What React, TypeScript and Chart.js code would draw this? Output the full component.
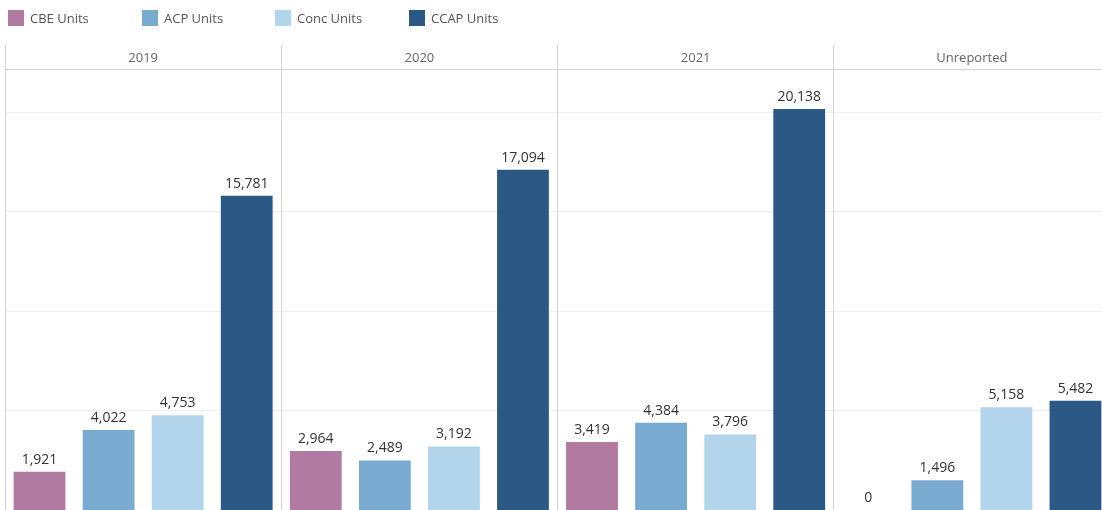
import React, { useEffect, useRef } from "react";
import { Chart, registerables } from "chart.js";

Chart.register(...registerables);

const categories = ["2019", "2020", "2021", "Unreported"];
const seriesNames = ["CBE Units", "ACP Units", "Conc Units", "CCAP Units"];
const cbeUnits = [1921, 2964, 3419, 0];
const acpUnits = [4022, 2489, 4384, 1496];
const concUnits = [4753, 3192, 3796, 5158];
const ccapUnits = [15781, 17094, 20138, 5482];
const gridTicks = [5000, 10000, 15000, 20000];
const colors = ["#b07aa1", "#79aad0", "#b2d5ec", "#2c5885"];

const FONT = '"Open Sans", "Noto Sans", sans-serif';

export default function App() {
  const ref = useRef<HTMLCanvasElement | null>(null);

  useEffect(() => {
    document.body.style.margin = "0";
    const canvas = ref.current;
    if (!canvas) return;
    const series = [cbeUnits, acpUnits, concUnits, ccapUnits];
    const labels: string[] = [];
    categories.forEach((c) => seriesNames.forEach((s) => labels.push(c + " " + s)));
    const datasets = series.map((vals, si) => ({
      label: seriesNames[si],
      backgroundColor: colors[si],
      data: labels.map((_, idx) => (idx % 4 === si ? vals[Math.floor(idx / 4)] : null)),
      barPercentage: 0.75,
      categoryPercentage: 1,
    }));

    const panelPlugin = {
      id: "panels",
      beforeDatasetsDraw(chart: any) {
        const { ctx, chartArea, scales } = chart;
        const y = scales.y;
        ctx.save();
        ctx.strokeStyle = "#f0f0f0";
        ctx.lineWidth = 1;
        gridTicks.forEach((t) => {
          const py = Math.round(y.getPixelForValue(t)) + 0.5;
          ctx.beginPath();
          ctx.moveTo(chartArea.left, py);
          ctx.lineTo(chartArea.right, py);
          ctx.stroke();
        });
        ctx.restore();
      },
      afterDatasetsDraw(chart: any) {
        const { ctx, chartArea, scales } = chart;
        const x = scales.x;
        const step = (chartArea.right - chartArea.left) / labels.length;
        ctx.save();
        const headTop = 45;
        const headBottom = chartArea.top;
        ctx.strokeStyle = "#d4d4d4";
        ctx.lineWidth = 1;
        ctx.beginPath();
        ctx.moveTo(chartArea.left, headBottom + 0.5);
        ctx.lineTo(chartArea.right, headBottom + 0.5);
        ctx.stroke();
        for (let p = 0; p <= categories.length; p++) {
          const px = Math.floor(chartArea.left + p * 4 * step) + 0.5;
          ctx.beginPath();
          ctx.moveTo(px, headTop);
          ctx.lineTo(px, chartArea.bottom);
          ctx.stroke();
        }
        ctx.fillStyle = "#666";
        ctx.font = "13px " + FONT;
        ctx.textAlign = "center";
        ctx.textBaseline = "middle";
        categories.forEach((c, p) => {
          const cx = chartArea.left + (p * 4 + 2) * step;
          ctx.fillText(c, cx, (headTop + headBottom) / 2 + 1);
        });
        ctx.fillStyle = "#333";
        ctx.font = "14px " + FONT;
        ctx.textBaseline = "bottom";
        chart.data.datasets.forEach((ds: any, di: number) => {
          const meta = chart.getDatasetMeta(di);
          meta.data.forEach((bar: any, idx: number) => {
            const v = ds.data[idx];
            if (v === null || v === undefined) return;
            ctx.fillText(v.toLocaleString("en-US"), x.getPixelForValue(idx), bar.y - 5);
          });
        });
        ctx.textAlign = "left";
        ctx.textBaseline = "middle";
        ctx.font = "13px " + FONT;
        seriesNames.forEach((s, i) => {
          const lx = 8 + i * 133.7;
          ctx.fillStyle = colors[i];
          ctx.fillRect(Math.round(lx), 10, 16, 16);
          ctx.fillStyle = "#555";
          ctx.fillText(s, Math.round(lx) + 22, 19);
        });
        ctx.restore();
      },
    };

    const chart = new Chart(canvas, {
      type: "bar",
      data: { labels, datasets },
      options: {
        responsive: false,
        animation: false,
        maintainAspectRatio: false,
        layout: { padding: { top: 69, left: 5, right: 0, bottom: 0 } },
        plugins: { legend: { display: false }, tooltip: { enabled: false } },
        scales: {
          x: { display: false, stacked: true },
          y: { display: false, min: 0, max: 22150, stacked: false },
        },
      },
      plugins: [panelPlugin],
    });
    return () => chart.destroy();
  }, []);

  return (
    <div style={{ width: 1102, height: 510, overflow: "hidden", position: "relative", background: "#fff" }}>
      <canvas ref={ref} width={1110} height={510} style={{ display: "block" }} />
    </div>
  );
}
